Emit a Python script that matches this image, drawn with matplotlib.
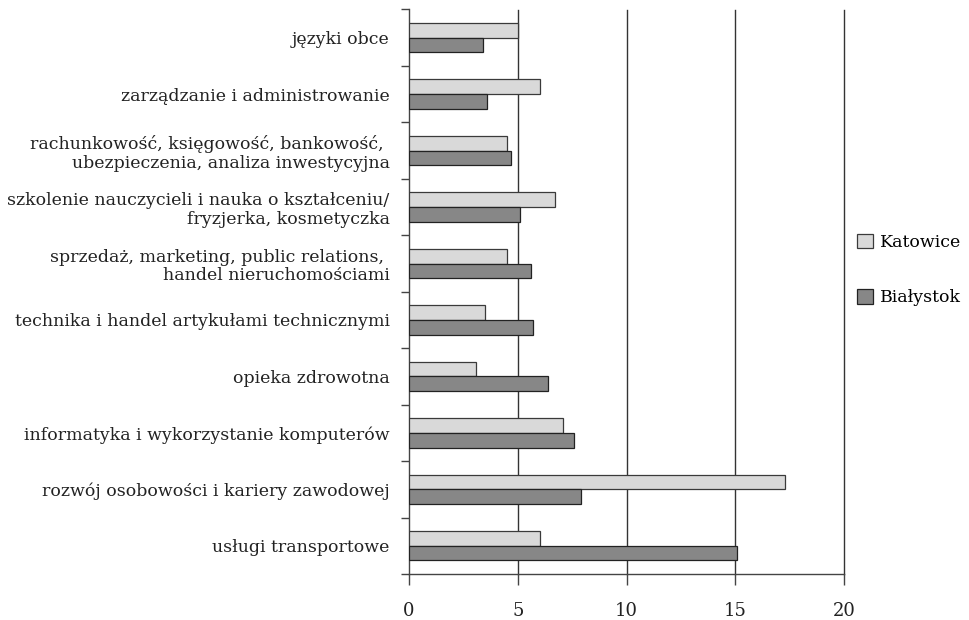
import numpy as np
import matplotlib.pyplot as plt

# dane z wykresu
kategorie = [
    "języki obce",
    "zarządzanie i administrowanie",
    "rachunkowość, księgowość, bankowość, \nubezpieczenia, analiza inwestycyjna",
    "szkolenie nauczycieli i nauka o kształceniu/\nfryzjerka, kosmetyczka",
    "sprzedaż, marketing, public relations, \nhandel nieruchomościami",
    "technika i handel artykułami technicznymi",
    "opieka zdrowotna",
    "informatyka i wykorzystanie komputerów",
    "rozwój osobowości i kariery zawodowej",
    "usługi transportowe",
]
katowice = [5.0, 6.0, 4.5, 6.7, 4.5, 3.5, 3.1, 7.1, 17.3, 6.0]
bialystok = [3.4, 3.6, 4.7, 5.1, 5.6, 5.7, 6.4, 7.6, 7.9, 15.1]
x_ticks = [0, 5, 10, 15, 20]

plt.rcParams['font.family'] = ['DejaVu Serif']

fig = plt.figure(figsize=(9.69, 6.2), dpi=100)
ax = fig.add_axes([409/969, 1 - 574/620, (844-409)/969, (574-9.5)/620])

y = np.arange(len(kategorie))
h = 0.26
ax.barh(y - h/2, katowice, height=h, color='#d9d9d9', edgecolor='#3a3a3a', lw=0.9, label='Katowice', zorder=3)
ax.barh(y + h/2, bialystok, height=h, color='#878787', edgecolor='#222222', lw=0.9, label='Białystok', zorder=3)

ax.set_xlim(0, 20)
ax.set_ylim(len(kategorie) - 0.5, -0.5)
ax.set_xticks(x_ticks)
ax.set_xticklabels([str(v) for v in x_ticks], fontsize=13, color='#222222')
ax.tick_params(axis='x', length=8, width=1, color='#444444', pad=12)

ax.set_yticks(y)
ax.set_yticklabels(kategorie, fontsize=12.5, color='#222222', linespacing=1.12)
ax.tick_params(axis='y', which='major', length=0, pad=14)
ax.set_yticks(np.arange(len(kategorie) + 1) - 0.5, minor=True)
ax.tick_params(axis='y', which='minor', length=6, width=1, color='#444444')

for v in x_ticks[1:]:
    ax.axvline(v, color='#333333', lw=1, zorder=1, clip_on=False)

for s in ['top', 'right']:
    ax.spines[s].set_visible(False)
for s in ['left', 'bottom']:
    ax.spines[s].set_color('#444444')
    ax.spines[s].set_linewidth(1)

fig.legend(loc='center left', bbox_to_anchor=(857/969, 1 - 270/620), frameon=False,
           borderpad=0, borderaxespad=0,
           fontsize=12.5, handlelength=0.9, handleheight=0.9, labelspacing=2.2, handletextpad=0.4)

fig.savefig('out.png', dpi=100)
